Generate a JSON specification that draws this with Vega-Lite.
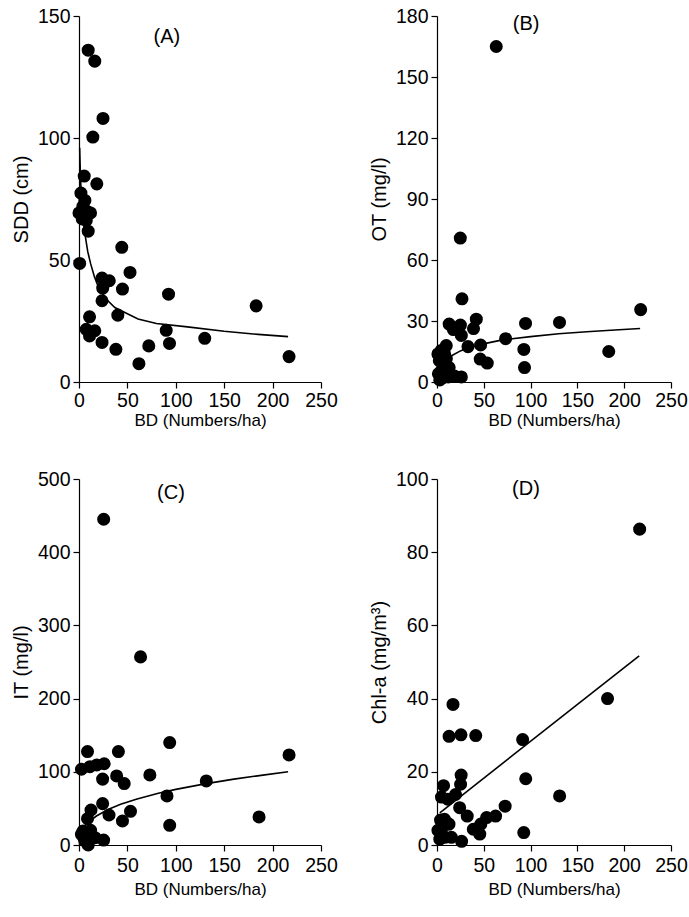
{
  "$schema": "https://vega.github.io/schema/vega-lite/v6.json",
  "padding": {"left": 11, "top": 6, "right": 2, "bottom": 5},
  "background": "white",
  "config": {
    "view": {"stroke": null},
    "font": "Liberation Sans",
    "axis": {
      "grid": false,
      "domainColor": "black",
      "domainWidth": 1.2,
      "tickColor": "black",
      "tickWidth": 1.2,
      "tickSize": 6,
      "labelColor": "black",
      "titleColor": "black",
      "labelFont": "Liberation Sans",
      "titleFont": "Liberation Sans",
      "labelFontSize": 19.5,
      "labelFlush": false,
      "labelOverlap": false,
      "titleFontWeight": "normal"
    },
    "axisX": {"titleFontSize": 17, "titlePadding": 7, "labelPadding": 5},
    "axisY": {"titleFontSize": 20, "titlePadding": 6, "labelPadding": 3}
  },
  "datasets": {
    "A_pts": [
      {"bd": 9.5, "v": 136}, {"bd": 16.3, "v": 131.5}, {"bd": 24.8, "v": 108}, {"bd": 14.3, "v": 100.4},
      {"bd": 5.4, "v": 84.4}, {"bd": 18.4, "v": 81.2}, {"bd": 2, "v": 77.4}, {"bd": 6.1, "v": 74.4},
      {"bd": 0, "v": 69.3}, {"bd": 11.9, "v": 69.3}, {"bd": 3.4, "v": 66.8}, {"bd": 7.5, "v": 66.2},
      {"bd": 9.5, "v": 61.8}, {"bd": 0.7, "v": 48.6}, {"bd": 44.2, "v": 55.2}, {"bd": 52.7, "v": 44.9},
      {"bd": 23.8, "v": 42.6}, {"bd": 31.3, "v": 41.5}, {"bd": 24.5, "v": 38.5}, {"bd": 44.9, "v": 38.1},
      {"bd": 23.8, "v": 33.3}, {"bd": 92.5, "v": 36}, {"bd": 183, "v": 31.2}, {"bd": 40.1, "v": 27.4},
      {"bd": 10.9, "v": 26.7}, {"bd": 7.5, "v": 21.6}, {"bd": 16.3, "v": 21}, {"bd": 10.9, "v": 18.9},
      {"bd": 90.1, "v": 21.2}, {"bd": 93.5, "v": 15.8}, {"bd": 23.8, "v": 16.2}, {"bd": 38.1, "v": 13.4},
      {"bd": 72.1, "v": 14.8}, {"bd": 129.9, "v": 17.9}, {"bd": 61.9, "v": 7.5}, {"bd": 217, "v": 10.4},
      {"bd": 4, "v": 72}, {"bd": 8, "v": 70}
    ],
    "A_fit": [
      {"bd": 0.7, "v": 96}, {"bd": 1.5, "v": 84}, {"bd": 2.7, "v": 74}, {"bd": 4, "v": 67}, {"bd": 6, "v": 61},
      {"bd": 9, "v": 53.5}, {"bd": 12, "v": 48.5}, {"bd": 16, "v": 43}, {"bd": 20, "v": 39}, {"bd": 28, "v": 34},
      {"bd": 37, "v": 30.5}, {"bd": 50, "v": 28}, {"bd": 61, "v": 25.8}, {"bd": 80, "v": 24}, {"bd": 112, "v": 22.6},
      {"bd": 150, "v": 20.8}, {"bd": 185, "v": 19.5}, {"bd": 216, "v": 18.6}
    ],
    "A_lab": [{"bd": 90.8, "v": 141.5, "t": "(A)"}],
    "B_pts": [
      {"bd": 63.3, "v": 165}, {"bd": 24.9, "v": 70.8}, {"bd": 26.7, "v": 40.9}, {"bd": 217.6, "v": 35.6},
      {"bd": 42, "v": 30.9}, {"bd": 39, "v": 26.3}, {"bd": 13, "v": 28.5}, {"bd": 25, "v": 28},
      {"bd": 94.6, "v": 28.8}, {"bd": 130.9, "v": 29.3}, {"bd": 17.5, "v": 25.8}, {"bd": 26, "v": 22.9},
      {"bd": 33.1, "v": 17.4}, {"bd": 46.6, "v": 18.2}, {"bd": 73.3, "v": 21.3}, {"bd": 92.8, "v": 16},
      {"bd": 183.5, "v": 15}, {"bd": 46.2, "v": 11.3}, {"bd": 53.7, "v": 9.3}, {"bd": 93.5, "v": 7.1},
      {"bd": 9.9, "v": 17.9}, {"bd": 4.6, "v": 15.5}, {"bd": 1, "v": 13.8}, {"bd": 2.5, "v": 10.5},
      {"bd": 10, "v": 11.5}, {"bd": 13, "v": 7.1}, {"bd": 4.6, "v": 5.5}, {"bd": 6.4, "v": 2.1},
      {"bd": 18.5, "v": 3}, {"bd": 26, "v": 2.5}, {"bd": 7, "v": 9}, {"bd": 1.5, "v": 4},
      {"bd": 12, "v": 2.5}, {"bd": 3, "v": 1}, {"bd": 8, "v": 14}
    ],
    "B_fit": [
      {"bd": 8, "v": 9.5}, {"bd": 12, "v": 11.5}, {"bd": 17, "v": 13.3}, {"bd": 25, "v": 15.3}, {"bd": 33, "v": 16.8},
      {"bd": 47, "v": 18.5}, {"bd": 70, "v": 20.7}, {"bd": 100, "v": 22.3}, {"bd": 130, "v": 23.7},
      {"bd": 160, "v": 24.7}, {"bd": 190, "v": 25.6}, {"bd": 217, "v": 26.3}
    ],
    "B_lab": [{"bd": 95.3, "v": 175.9, "t": "(B)"}],
    "C_pts": [
      {"bd": 25.5, "v": 445}, {"bd": 63.6, "v": 257}, {"bd": 93.7, "v": 140}, {"bd": 8.8, "v": 127.6},
      {"bd": 40.7, "v": 127.6}, {"bd": 217, "v": 123}, {"bd": 2.5, "v": 103.5}, {"bd": 11.3, "v": 107},
      {"bd": 18.4, "v": 109.4}, {"bd": 26, "v": 111}, {"bd": 24.4, "v": 90}, {"bd": 38.9, "v": 94.3},
      {"bd": 46.7, "v": 83.9}, {"bd": 73.2, "v": 95.7}, {"bd": 131.5, "v": 87.5}, {"bd": 90.9, "v": 67},
      {"bd": 24.4, "v": 56.5}, {"bd": 12.4, "v": 47.8}, {"bd": 31, "v": 41}, {"bd": 53.2, "v": 46},
      {"bd": 44.9, "v": 32.8}, {"bd": 93.7, "v": 26.9}, {"bd": 186, "v": 38.3}, {"bd": 8.8, "v": 36},
      {"bd": 4.2, "v": 19}, {"bd": 2.5, "v": 14.6}, {"bd": 9.5, "v": 14.6}, {"bd": 16.6, "v": 10},
      {"bd": 25.4, "v": 6.8}, {"bd": 9.5, "v": 0}, {"bd": 6, "v": 5.5}, {"bd": 12, "v": 20}, {"bd": 5, "v": 10}
    ],
    "C_fit": [
      {"bd": 5, "v": 25}, {"bd": 10, "v": 31.6}, {"bd": 18, "v": 39.6}, {"bd": 30, "v": 48.5}, {"bd": 43, "v": 55.7},
      {"bd": 60, "v": 62.9}, {"bd": 82, "v": 70.6}, {"bd": 100, "v": 76}, {"bd": 130, "v": 83.5},
      {"bd": 160, "v": 90}, {"bd": 190, "v": 95.5}, {"bd": 216, "v": 100}
    ],
    "C_lab": [{"bd": 95, "v": 481, "t": "(C)"}],
    "D_pts": [
      {"bd": 216.5, "v": 86.3}, {"bd": 182.2, "v": 40}, {"bd": 17.1, "v": 38.4}, {"bd": 12.9, "v": 29.7},
      {"bd": 25.6, "v": 30.1}, {"bd": 41.4, "v": 29.9}, {"bd": 91.5, "v": 28.8}, {"bd": 94.8, "v": 18.1},
      {"bd": 131, "v": 13.4}, {"bd": 25.8, "v": 19.1}, {"bd": 25.2, "v": 16.6}, {"bd": 7, "v": 16.2},
      {"bd": 4.8, "v": 13.1}, {"bd": 19.8, "v": 13.8}, {"bd": 11.5, "v": 12.5}, {"bd": 24.2, "v": 10.2},
      {"bd": 32.3, "v": 7.9}, {"bd": 72.8, "v": 10.6}, {"bd": 62.6, "v": 7.9}, {"bd": 53, "v": 7.5},
      {"bd": 46.8, "v": 5.7}, {"bd": 38.8, "v": 4.3}, {"bd": 45.7, "v": 3}, {"bd": 92.7, "v": 3.4},
      {"bd": 3.8, "v": 6.8}, {"bd": 12.8, "v": 5.7}, {"bd": 4.8, "v": 4.3}, {"bd": 3, "v": 1.6},
      {"bd": 15.4, "v": 2.1}, {"bd": 26.3, "v": 1}, {"bd": 8.3, "v": 2.1}, {"bd": 1, "v": 4}, {"bd": 8, "v": 7}
    ],
    "D_fit": [{"bd": 3, "v": 8.8}, {"bd": 216, "v": 51.7}],
    "D_lab": [{"bd": 95, "v": 97.2, "t": "(D)"}]
  },
  "columns": 2,
  "bounds": "flush",
  "spacing": {"row": 97, "column": 116},
  "concat": [
    {
      "width": 242, "height": 366,
      "layer": [
        {"data": {"name": "A_fit"}, "mark": {"type": "line", "color": "black", "strokeWidth": 1.6},
         "encoding": {"x": {"field": "bd", "type": "quantitative"}, "y": {"field": "v", "type": "quantitative"}}},
        {"data": {"name": "A_pts"}, "mark": {"type": "circle", "color": "black", "opacity": 1, "size": 170},
         "encoding": {
           "x": {"field": "bd", "type": "quantitative", "scale": {"domain": [0, 250], "nice": false}, "axis": {"values": [0, 50, 100, 150, 200, 250], "title": "BD (Numbers/ha)", "labelPadding": 3, "titlePadding": 3}},
           "y": {"field": "v", "type": "quantitative", "scale": {"domain": [0, 150], "nice": false}, "axis": {"values": [0, 50, 100, 150], "title": "SDD (cm)"}}}},
        {"data": {"name": "A_lab"}, "mark": {"type": "text", "fontSize": 20, "color": "black", "font": "Liberation Sans"},
         "encoding": {"x": {"field": "bd", "type": "quantitative"}, "y": {"field": "v", "type": "quantitative"}, "text": {"field": "t"}}}
      ]
    },
    {
      "width": 234, "height": 366,
      "layer": [
        {"data": {"name": "B_fit"}, "mark": {"type": "line", "color": "black", "strokeWidth": 1.6},
         "encoding": {"x": {"field": "bd", "type": "quantitative"}, "y": {"field": "v", "type": "quantitative"}}},
        {"data": {"name": "B_pts"}, "mark": {"type": "circle", "color": "black", "opacity": 1, "size": 170},
         "encoding": {
           "x": {"field": "bd", "type": "quantitative", "scale": {"domain": [0, 250], "nice": false}, "axis": {"values": [0, 50, 100, 150, 200, 250], "title": "BD (Numbers/ha)", "labelPadding": 3, "titlePadding": 3}},
           "y": {"field": "v", "type": "quantitative", "scale": {"domain": [0, 180], "nice": false}, "axis": {"values": [0, 30, 60, 90, 120, 150, 180], "title": "OT (mg/l)"}}}},
        {"data": {"name": "B_lab"}, "mark": {"type": "text", "fontSize": 20, "color": "black", "font": "Liberation Sans"},
         "encoding": {"x": {"field": "bd", "type": "quantitative"}, "y": {"field": "v", "type": "quantitative"}, "text": {"field": "t"}}}
      ]
    },
    {
      "width": 242, "height": 366,
      "layer": [
        {"data": {"name": "C_fit"}, "mark": {"type": "line", "color": "black", "strokeWidth": 1.6},
         "encoding": {"x": {"field": "bd", "type": "quantitative"}, "y": {"field": "v", "type": "quantitative"}}},
        {"data": {"name": "C_pts"}, "mark": {"type": "circle", "color": "black", "opacity": 1, "size": 170},
         "encoding": {
           "x": {"field": "bd", "type": "quantitative", "scale": {"domain": [0, 250], "nice": false}, "axis": {"values": [0, 50, 100, 150, 200, 250], "title": "BD (Numbers/ha)"}},
           "y": {"field": "v", "type": "quantitative", "scale": {"domain": [0, 500], "nice": false}, "axis": {"values": [0, 100, 200, 300, 400, 500], "title": "IT (mg/l)"}}}},
        {"data": {"name": "C_lab"}, "mark": {"type": "text", "fontSize": 20, "color": "black", "font": "Liberation Sans"},
         "encoding": {"x": {"field": "bd", "type": "quantitative"}, "y": {"field": "v", "type": "quantitative"}, "text": {"field": "t"}}}
      ]
    },
    {
      "width": 234, "height": 366,
      "layer": [
        {"data": {"name": "D_fit"}, "mark": {"type": "line", "color": "black", "strokeWidth": 1.6},
         "encoding": {"x": {"field": "bd", "type": "quantitative"}, "y": {"field": "v", "type": "quantitative"}}},
        {"data": {"name": "D_pts"}, "mark": {"type": "circle", "color": "black", "opacity": 1, "size": 170},
         "encoding": {
           "x": {"field": "bd", "type": "quantitative", "scale": {"domain": [0, 250], "nice": false}, "axis": {"values": [0, 50, 100, 150, 200, 250], "title": "BD (Numbers/ha)"}},
           "y": {"field": "v", "type": "quantitative", "scale": {"domain": [0, 100], "nice": false}, "axis": {"values": [0, 20, 40, 60, 80, 100], "title": "Chl-a (mg/m³)"}}}},
        {"data": {"name": "D_lab"}, "mark": {"type": "text", "fontSize": 20, "color": "black", "font": "Liberation Sans"},
         "encoding": {"x": {"field": "bd", "type": "quantitative"}, "y": {"field": "v", "type": "quantitative"}, "text": {"field": "t"}}}
      ]
    }
  ]
}
